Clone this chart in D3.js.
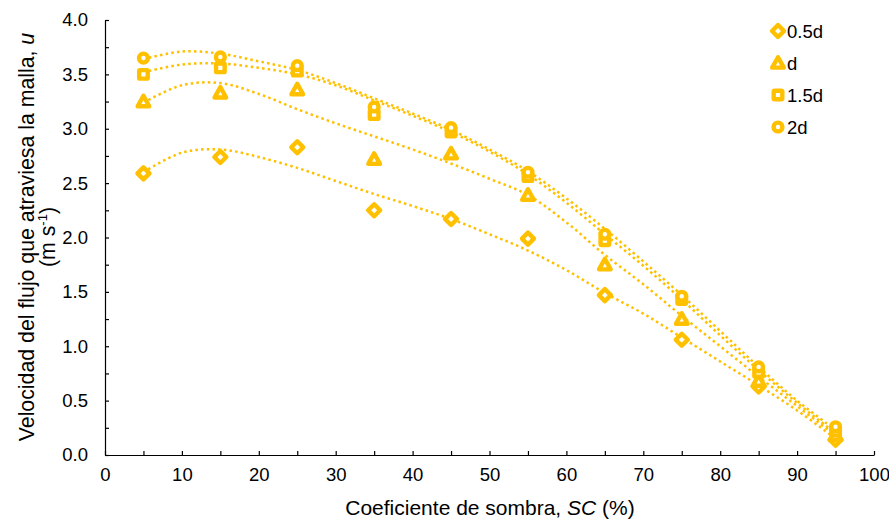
<!DOCTYPE html>
<html>
<head>
<meta charset="utf-8">
<script src="https://cdn.jsdelivr.net/npm/d3@7"></script>
<style>
  html, body { margin: 0; padding: 0; background: #fff; }
  svg { display: block; font-family: "Liberation Sans", Arial, sans-serif; }
</style>
</head>
<body>
<svg id="chart" width="889" height="520"></svg>
<script>
// ---- data: measured points ----
const shadeCoef = [5, 15, 25, 35, 45, 55, 65, 75, 85, 95];
const seriesNames = ["0.5d", "d", "1.5d", "2d"];
const v05d = [2.59, 2.74, 2.83, 2.25, 2.17, 1.99, 1.47, 1.06, 0.63, 0.14];
const v1d  = [3.25, 3.33, 3.36, 2.72, 2.77, 2.39, 1.75, 1.25, 0.68, 0.18];
const v15d = [3.50, 3.56, 3.53, 3.13, 2.97, 2.56, 1.97, 1.43, 0.76, 0.22];
const v2d  = [3.65, 3.66, 3.58, 3.20, 3.01, 2.60, 2.03, 1.46, 0.81, 0.26];
const seriesValues = [v05d, v1d, v15d, v2d];

// ---- data: trendlines ----
const trendX = [5, 10, 15, 20, 25, 30, 35, 40, 45, 50, 55, 60, 65, 70, 75, 80, 85, 90, 95];
const trend05d = [2.60, 2.78, 2.81, 2.74, 2.64, 2.52, 2.40, 2.29, 2.17, 2.03, 1.88, 1.70, 1.49, 1.30, 1.08, 0.86, 0.64, 0.41, 0.15];
const trend1d  = [3.24, 3.40, 3.42, 3.32, 3.18, 3.05, 2.93, 2.81, 2.68, 2.54, 2.39, 2.14, 1.84, 1.57, 1.28, 1.00, 0.72, 0.45, 0.18];
const trend15d = [3.52, 3.59, 3.60, 3.56, 3.50, 3.40, 3.26, 3.12, 2.97, 2.79, 2.58, 2.32, 2.03, 1.74, 1.43, 1.10, 0.78, 0.48, 0.20];
const trend2d  = [3.64, 3.71, 3.69, 3.62, 3.54, 3.42, 3.28, 3.14, 2.99, 2.81, 2.61, 2.36, 2.08, 1.78, 1.47, 1.14, 0.81, 0.50, 0.23];
const trendValues = [trend05d, trend1d, trend15d, trend2d];

const markerTypes = ["diamond", "triangle", "square", "circle"];
const xTickLabels = [0, 10, 20, 30, 40, 50, 60, 70, 80, 90, 100];
const yTickLabels = ["0.0", "0.5", "1.0", "1.5", "2.0", "2.5", "3.0", "3.5", "4.0"];

const color = "#FFC000";
const svg = d3.select("#chart");
const M = { left: 105, right: 874, top: 20, bottom: 455 };

const x = d3.scaleLinear().domain([0, 100]).range([M.left, M.right]);
const y = d3.scaleLinear().domain([0, 4]).range([M.bottom, M.top]);

// ---- axes ----
const xTicks = d3.range(0, 101, 5);
const xAxis = d3.axisBottom(x).tickValues(xTicks)
  .tickSizeInner(-4).tickSizeOuter(0).tickPadding(13)
  .tickFormat(d => xTickLabels.includes(d) ? String(d) : "");
const gx = svg.append("g").attr("transform", `translate(0,${M.bottom})`).call(xAxis);

const yTicks = d3.range(0, 4.001, 0.25);
const yAxis = d3.axisLeft(y).tickValues(yTicks)
  .tickSizeInner(-4).tickSizeOuter(0).tickPadding(17)
  .tickFormat(d => {
    const s = d.toFixed(1);
    return (Math.abs(d * 2 - Math.round(d * 2)) < 1e-9 && yTickLabels.includes(s)) ? s : "";
  });
const gy = svg.append("g").attr("transform", `translate(${M.left},0)`).call(yAxis);

[gx, gy].forEach(g => {
  g.selectAll(".domain").attr("stroke", "#000").attr("stroke-width", 1.2);
  g.selectAll(".tick line").attr("stroke", "#000").attr("stroke-width", 1.2);
  g.selectAll(".tick text").attr("fill", "#000").style("font-size", "18.5px")
    .style("font-family", "'Liberation Sans', Arial, sans-serif");
});

// ---- axis titles ----
const xt = svg.append("text").attr("x", 490).attr("y", 515)
  .attr("text-anchor", "middle").style("font-size", "21px").attr("fill", "#000");
xt.append("tspan").text("Coeficiente de sombra, ");
xt.append("tspan").style("font-style", "italic").text("SC");
xt.append("tspan").text(" (%)");

const yt = svg.append("g").attr("transform", "translate(0,237) rotate(-90)");
const l1 = yt.append("text").attr("x", 0).attr("y", 34).attr("text-anchor", "middle")
  .style("font-size", "21.3px").attr("fill", "#000");
l1.append("tspan").text("Velocidad del flujo que atraviesa la malla, ");
l1.append("tspan").style("font-style", "italic").text("u");
const l2 = yt.append("text").attr("x", 0).attr("y", 55).attr("text-anchor", "middle")
  .style("font-size", "21.3px").attr("fill", "#000");
l2.append("tspan").text("(m s");
l2.append("tspan").attr("dy", -8).style("font-size", "13px").text("-1");
l2.append("tspan").attr("dy", 8).text(")");

// ---- trendlines (dotted) ----
const line = d3.line().x(d => x(d[0])).y(d => y(d[1])).curve(d3.curveCatmullRom.alpha(0.5));
trendValues.forEach(vals => {
  const pts = trendX.map((t, i) => [t, vals[i]]);
  svg.append("path").datum(pts).attr("d", line).attr("fill", "none")
    .attr("stroke", color).attr("stroke-width", 2.5).attr("stroke-dasharray", "2.5 3.2");
});

// ---- markers ----
function drawMarker(g, type, cx, cy) {
  const sw = 4.4;
  if (type === "diamond") {
    const r = 6;
    g.append("path").attr("d", `M${cx},${cy - r}L${cx + r},${cy}L${cx},${cy + r}L${cx - r},${cy}Z`)
      .attr("fill", "#fff").attr("stroke", color).attr("stroke-width", sw).attr("stroke-linejoin", "round");
  } else if (type === "triangle") {
    const r = 5.8;
    g.append("path").attr("d", `M${cx},${cy - r}L${cx + r},${cy + r * 0.8}L${cx - r},${cy + r * 0.8}Z`)
      .attr("fill", "#fff").attr("stroke", color).attr("stroke-width", sw).attr("stroke-linejoin", "round");
  } else if (type === "square") {
    const r = 4.3;
    g.append("rect").attr("x", cx - r).attr("y", cy - r).attr("width", 2 * r).attr("height", 2 * r)
      .attr("rx", 1).attr("fill", "#fff").attr("stroke", color).attr("stroke-width", sw);
  } else {
    g.append("circle").attr("cx", cx).attr("cy", cy).attr("r", 4.4)
      .attr("fill", "#fff").attr("stroke", color).attr("stroke-width", sw);
  }
}
seriesValues.forEach((vals, si) => {
  const g = svg.append("g");
  vals.forEach((v, i) => drawMarker(g, markerTypes[si], x(shadeCoef[i]), y(v)));
});

// ---- legend ----
const legendY = [31, 63, 95, 127];
seriesNames.forEach((name, i) => {
  const g = svg.append("g");
  drawMarker(g, markerTypes[i], 778, legendY[i]);
  g.append("text").attr("x", 787).attr("y", legendY[i]).attr("dy", "0.36em")
    .style("font-size", "18.5px").attr("fill", "#000").text(name);
});
</script>
</body>
</html>
